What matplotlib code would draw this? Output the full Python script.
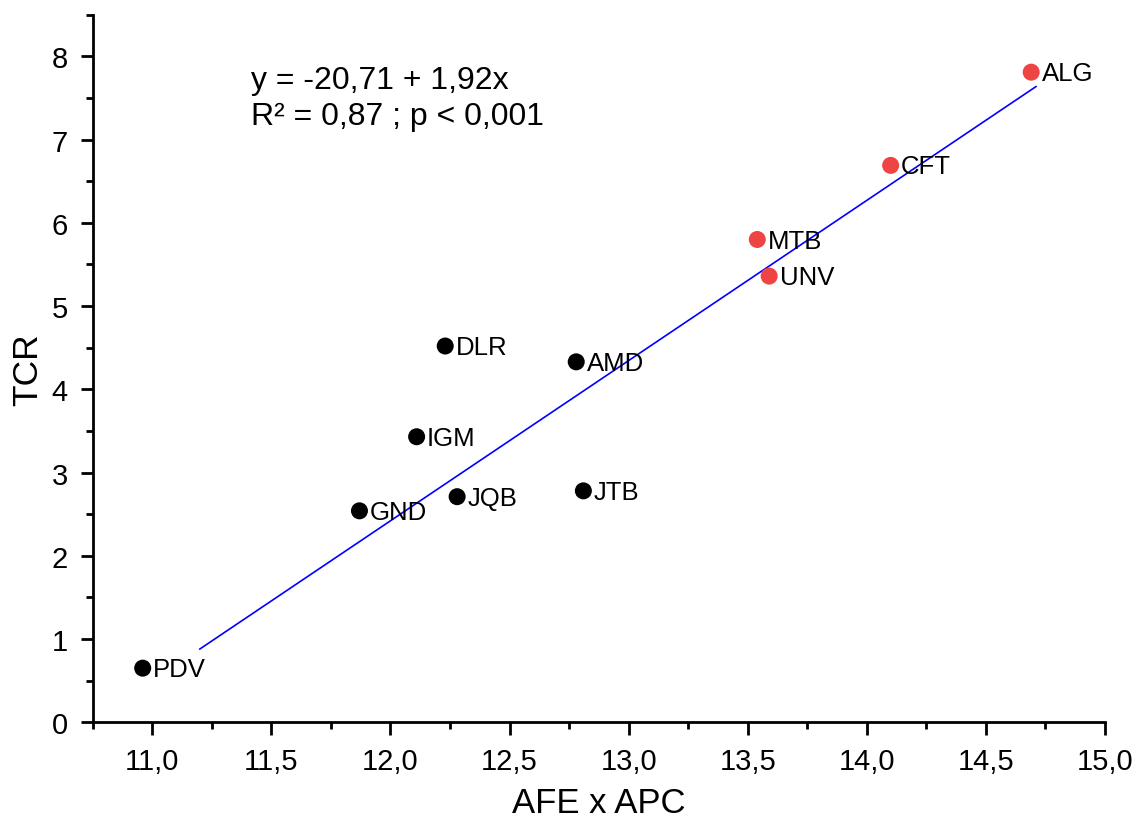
import matplotlib
matplotlib.use("Agg")
import matplotlib.pyplot as plt
from matplotlib.ticker import MultipleLocator, FuncFormatter
import numpy as np

plt.rcParams['font.family'] = ['Liberation Sans', 'DejaVu Sans']

# data
labels = ["PDV", "GND", "IGM", "DLR", "JQB", "AMD", "JTB", "MTB", "UNV", "CFT", "ALG"]
afe_apc = [10.96, 11.87, 12.11, 12.23, 12.28, 12.78, 12.81, 13.54, 13.59, 14.10, 14.69]
tcr = [0.65, 2.54, 3.43, 4.52, 2.71, 4.33, 2.78, 5.80, 5.36, 6.69, 7.81]
highlight = [False, False, False, False, False, False, False, True, True, True, True]

# fitted line as drawn
fit_intercept = -20.68
fit_slope = 1.925
fit_range = [11.2, 14.71]

eq_lines = ["y = -20,71 + 1,92x", "R² = 0,87 ; p < 0,001"]

fig = plt.figure(figsize=(11.37, 8.28), dpi=100)
ax = fig.add_axes([0.0815, 0.1265, 0.8904, 0.8545])

x = np.array(afe_apc)
y = np.array(tcr)
hl = np.array(highlight)

# regression line
lx = np.array(fit_range)
ax.plot(lx, fit_intercept + fit_slope * lx, color='#0000ff', lw=1.2, zorder=2)

ax.scatter(x[~hl], y[~hl], s=150, color='black', edgecolors='none', zorder=3)
ax.scatter(x[hl], y[hl], s=150, color='#ef4444', edgecolors='none', zorder=3)

for xi, yi, name in zip(x, y, labels):
    ax.annotate(name, (xi, yi), xytext=(7.5, -5.8), textcoords='offset points',
                ha='left', va='baseline', fontsize=18.5, zorder=4)

# equation text, one line at a time
ax.text(0.156, 0.897, eq_lines[0], transform=ax.transAxes, ha='left', va='baseline', fontsize=23)
ax.text(0.156, 0.846, eq_lines[1], transform=ax.transAxes, ha='left', va='baseline', fontsize=23)

ax.set_xlim(10.75, 15.0)
ax.set_ylim(0, 8.5)

ax.xaxis.set_major_locator(MultipleLocator(0.5))
ax.xaxis.set_minor_locator(MultipleLocator(0.25))
ax.yaxis.set_major_locator(MultipleLocator(1))
ax.yaxis.set_minor_locator(MultipleLocator(0.5))
ax.xaxis.set_major_formatter(FuncFormatter(lambda v, p: f"{v:.1f}".replace('.', ',')))
ax.yaxis.set_major_formatter(FuncFormatter(lambda v, p: f"{v:.0f}"))

for side in ['top', 'right']:
    ax.spines[side].set_visible(False)
for side in ['left', 'bottom']:
    ax.spines[side].set_linewidth(2)

ax.tick_params(which='major', direction='out', length=9, width=2, labelsize=21, pad=9)
ax.tick_params(which='minor', direction='out', length=5, width=2)

ax.set_xlabel("AFE x APC", fontsize=25)
ax.set_ylabel("TCR", fontsize=25.5)
ax.xaxis.set_label_coords(0.5, -0.09)
ax.yaxis.set_label_coords(-0.048, 0.5)

fig.savefig("out.png", dpi=100)
